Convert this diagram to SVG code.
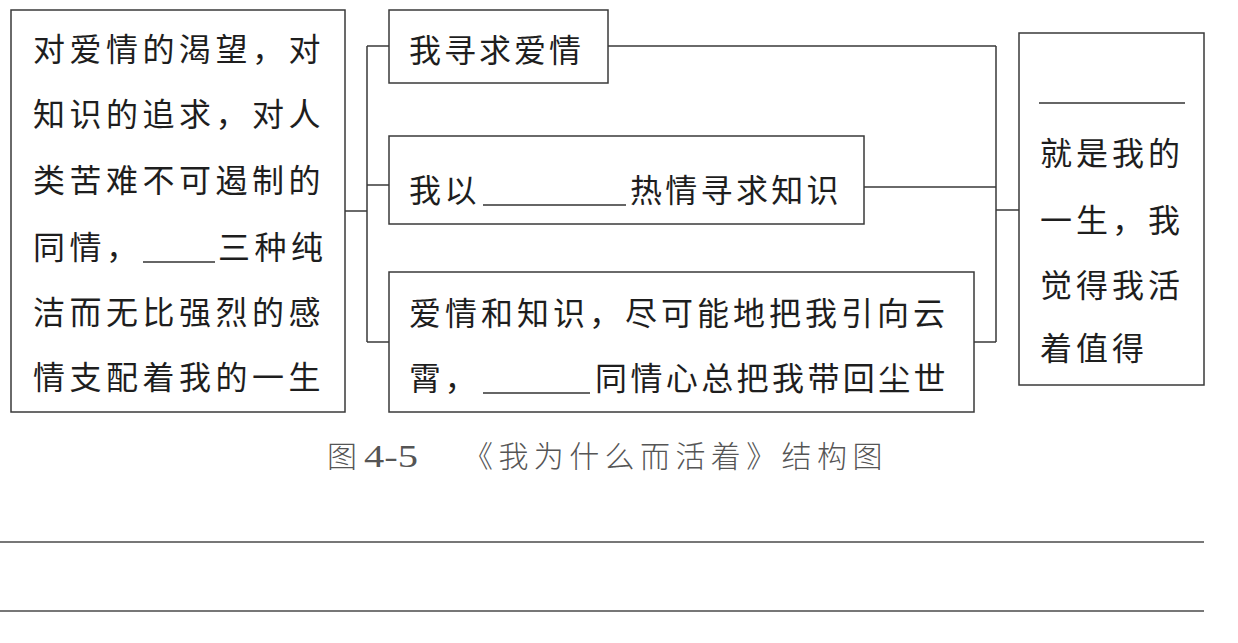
<svg xmlns="http://www.w3.org/2000/svg" width="1238" height="643" viewBox="0 0 1238 643">
<style>
.box{fill:#fff;stroke:#3a3a3a;stroke-width:1.5}
.t{font-family:"Noto Sans CJK SC","Noto Sans CJK JP",sans-serif;font-size:32px;fill:#1e1e1e;letter-spacing:4px}
.c{fill:none;stroke:#3a3a3a;stroke-width:1.5}
.blank{stroke:#333;stroke-width:1.5}
.cap{font-family:"Noto Sans CJK SC",sans-serif;font-size:30px;fill:#555;font-weight:300;letter-spacing:5.4px}
.rule{stroke:#777;stroke-width:2}
</style>
<rect width="1238" height="643" fill="#fff"/>
<g id="connectors">
<path class="c" d="M345 211 H367 M367 46 V342 M367 46 H389 M367 185 H389 M367 342 H389"/>
<path class="c" d="M608 46 H996 M864 187 H996 M974 342 H996 M996 46 V342 M996 210 H1020"/>
</g>
<g id="node-left">
<rect class="box" x="11" y="10" width="334" height="402"/>
<text class="t" x="33" y="61" style="letter-spacing:4.5px">对爱情的渴望，对</text>
<text class="t" x="33" y="126" style="letter-spacing:4.5px">知识的追求，对人</text>
<text class="t" x="33" y="192" style="letter-spacing:4.5px">类苦难不可遏制的</text>
<text class="t" x="33" y="259" style="letter-spacing:4.5px">同情，</text>
<line class="blank" x1="143" y1="262" x2="215" y2="262"/>
<text class="t" x="218" y="259" style="letter-spacing:4.5px">三种纯</text>
<text class="t" x="33" y="324" style="letter-spacing:4.5px">洁而无比强烈的感</text>
<text class="t" x="33" y="389" style="letter-spacing:4.5px">情支配着我的一生</text>
</g>
<g id="node-love">
<rect class="box" x="389" y="10" width="219" height="73"/>
<text class="t" x="409" y="62" style="letter-spacing:3px">我寻求爱情</text>
</g>
<g id="node-knowledge">
<rect class="box" x="389" y="136" width="475" height="88"/>
<text class="t" x="409" y="202" style="letter-spacing:3.5px">我以</text>
<line class="blank" x1="483" y1="205" x2="626" y2="205"/>
<text class="t" x="630" y="202" style="letter-spacing:3.3px">热情寻求知识</text>
</g>
<g id="node-sympathy">
<rect class="box" x="389" y="272" width="585" height="140"/>
<text class="t" x="409" y="325" style="letter-spacing:4px">爱情和知识，尽可能地把我引向云</text>
<text class="t" x="409" y="390" style="letter-spacing:3.5px">霄，</text>
<line class="blank" x1="483" y1="393" x2="590" y2="393"/>
<text class="t" x="595" y="390" style="letter-spacing:3.4px">同情心总把我带回尘世</text>
</g>
<g id="node-right">
<rect class="box" x="1019" y="33" width="185" height="352"/>
<line class="blank" x1="1039" y1="103" x2="1185" y2="103"/>
<text class="t" x="1040" y="165">就是我的</text>
<text class="t" x="1040" y="232">一生，我</text>
<text class="t" x="1040" y="297">觉得我活</text>
<text class="t" x="1040" y="360">着值得</text>
</g>
<g id="caption">
<text class="cap" x="327" y="467" style="letter-spacing:0">图</text>
<text x="364" y="467" font-family="Liberation Serif, serif" font-size="32" fill="#555" textLength="54" lengthAdjust="spacingAndGlyphs">4-5</text>
<text class="cap" x="463" y="467">《我为什么而活着》结构图</text>
</g>
<g id="rules">
<line class="rule" x1="0" y1="542" x2="1204" y2="542"/>
<line class="rule" x1="0" y1="611" x2="1204" y2="611"/>
</g>
</svg>
